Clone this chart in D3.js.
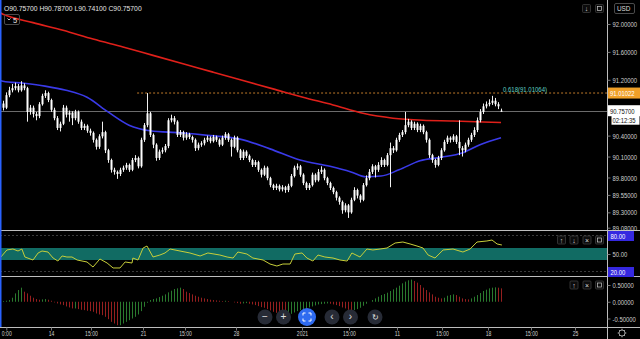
<!DOCTYPE html>
<html><head><meta charset="utf-8">
<script src="https://cdn.jsdelivr.net/npm/d3@7"></script>
<style>html,body{margin:0;padding:0;background:#000;overflow:hidden}svg{display:block}text{font-family:"Liberation Sans",Arial,sans-serif}</style>
</head><body><svg id="c" width="640" height="339"></svg>
<script>
// ---------------- DATA ----------------
const opens=[90.86,90.80,90.98,91.05,91.08,91.11,91.05,91.12,91.08,90.74,
90.80,90.71,90.68,90.85,90.97,91.01,90.91,90.77,90.65,90.51,
90.57,90.80,90.70,90.73,90.65,90.74,90.60,90.51,90.54,90.47,
90.44,90.34,90.24,90.39,90.45,90.19,90.05,89.91,89.88,89.85,
89.91,89.94,89.98,89.91,90.05,90.08,89.96,90.34,90.55,90.72,
90.41,90.27,90.08,90.17,90.19,90.25,90.62,90.65,90.60,90.41,
90.45,90.37,90.42,90.38,90.34,90.22,90.27,90.29,90.34,90.37,
90.32,90.38,90.34,90.27,90.37,90.42,90.34,90.24,90.37,90.19,
90.08,90.17,90.11,90.05,89.98,90.02,89.91,89.84,89.94,89.79,
89.69,89.65,89.68,89.63,89.66,89.62,89.68,89.82,89.94,89.96,
89.84,89.72,89.65,89.69,89.84,89.76,89.88,89.91,89.79,89.72,
89.65,89.59,89.51,89.45,89.33,89.40,89.30,89.48,89.62,89.54,
89.48,89.69,89.79,89.88,89.96,89.91,89.98,90.05,89.98,90.12,
90.22,90.19,90.34,90.41,90.45,90.55,90.60,90.51,90.57,90.48,
90.54,90.45,90.34,90.12,90.05,89.98,90.08,90.19,90.31,90.37,
90.34,90.39,90.31,90.22,90.19,90.27,90.34,90.41,90.48,90.62,
90.74,90.82,90.85,90.87,90.90,90.85,90.757];
const closes=[90.80,90.98,91.05,91.08,91.11,91.05,91.12,91.08,90.74,90.80,
90.71,90.68,90.85,90.97,91.01,90.91,90.77,90.65,90.51,90.57,
90.80,90.70,90.73,90.65,90.74,90.60,90.51,90.54,90.47,90.44,
90.34,90.24,90.39,90.45,90.19,90.05,89.91,89.88,89.85,89.91,
89.94,89.98,89.91,90.05,90.08,89.96,90.34,90.55,90.72,90.41,
90.27,90.08,90.17,90.19,90.25,90.62,90.65,90.60,90.41,90.45,
90.37,90.42,90.38,90.34,90.22,90.27,90.29,90.34,90.37,90.32,
90.38,90.34,90.27,90.37,90.42,90.34,90.24,90.37,90.19,90.08,
90.17,90.11,90.05,89.98,90.02,89.91,89.84,89.94,89.79,89.69,
89.65,89.68,89.63,89.66,89.62,89.68,89.82,89.94,89.96,89.84,
89.72,89.65,89.69,89.84,89.76,89.88,89.91,89.79,89.72,89.65,
89.59,89.51,89.45,89.33,89.40,89.30,89.48,89.62,89.54,89.48,
89.69,89.79,89.88,89.96,89.91,89.98,90.05,89.98,90.12,90.22,
90.19,90.34,90.41,90.45,90.55,90.60,90.51,90.57,90.48,90.54,
90.45,90.34,90.12,90.05,89.98,90.08,90.19,90.31,90.37,90.34,
90.39,90.31,90.22,90.19,90.27,90.34,90.41,90.48,90.62,90.74,
90.82,90.85,90.87,90.90,90.85,90.82,90.757];
const highs=[90.90,91.02,91.10,91.14,91.16,91.14,91.18,91.15,91.10,90.84,
90.83,90.74,90.88,91.00,91.05,91.03,90.93,90.80,90.68,90.60,
90.84,90.83,90.76,90.75,90.77,90.76,90.63,90.57,90.56,90.50,
90.46,90.36,90.42,90.60,90.47,90.21,90.07,89.94,89.90,89.94,
89.97,90.01,90.00,90.08,90.12,90.10,90.37,90.58,91.01,90.74,
90.43,90.29,90.20,90.23,90.28,90.65,90.70,90.68,90.62,90.48,
90.47,90.45,90.44,90.40,90.36,90.30,90.32,90.37,90.40,90.39,
90.41,90.40,90.36,90.40,90.45,90.44,90.36,90.40,90.39,90.21,
90.20,90.19,90.13,90.07,90.05,90.04,89.93,89.97,89.96,89.81,
89.71,89.71,89.70,89.69,89.68,89.71,89.85,89.97,90.00,89.98,
89.86,89.74,89.72,89.87,89.86,89.92,89.96,89.93,89.81,89.74,
89.67,89.61,89.53,89.47,89.43,89.42,89.51,89.66,89.64,89.56,
89.72,89.83,89.92,89.99,89.98,90.02,90.09,90.07,90.15,90.30,
90.25,90.37,90.44,90.48,90.74,90.64,90.62,90.60,90.59,90.57,
90.56,90.47,90.36,90.14,90.07,90.11,90.22,90.34,90.40,90.39,
90.42,90.41,90.62,90.25,90.30,90.37,90.44,90.52,90.66,90.78,
90.86,90.89,90.92,90.97,90.94,90.88,90.787];
const lows=[90.76,90.78,90.95,91.02,91.05,91.02,91.03,91.05,90.60,90.70,
90.66,90.62,90.65,90.83,90.94,90.88,90.74,90.62,90.48,90.46,
90.55,90.66,90.60,90.55,90.62,90.57,90.48,90.48,90.44,90.40,
90.30,90.20,90.21,90.36,90.15,90.01,89.87,89.84,89.78,89.82,
89.88,89.91,89.88,89.89,90.02,89.93,89.94,90.31,90.52,90.38,
90.22,90.04,90.05,90.14,90.16,90.22,90.59,90.56,90.38,90.38,
90.33,90.34,90.35,90.30,90.18,90.19,90.24,90.26,90.31,90.29,
90.30,90.31,90.24,90.25,90.34,90.31,90.10,90.22,90.16,90.05,
90.05,90.08,90.02,89.95,89.95,89.88,89.80,89.82,89.76,89.66,
89.62,89.62,89.60,89.60,89.58,89.59,89.66,89.80,89.91,89.81,
89.69,89.62,89.62,89.67,89.73,89.74,89.85,89.76,89.69,89.62,
89.56,89.47,89.41,89.28,89.30,89.22,89.28,89.46,89.50,89.44,
89.46,89.67,89.76,89.85,89.80,89.88,89.95,89.95,89.96,89.66,
90.15,90.17,90.31,90.38,90.42,90.52,90.48,90.48,90.45,90.45,
90.42,90.30,90.08,90.01,89.94,89.96,90.05,90.17,90.28,90.30,
90.31,90.28,90.12,90.10,90.16,90.24,90.31,90.38,90.45,90.59,
90.71,90.79,90.82,90.84,90.82,90.78,90.741];

// slow MA (red) and fast MA (blue), read at candle indices
const maSlowIdx=[-1,0,10,20,30,40,50,60,70,80,90,100,110,120,130,140,150,160,166];
const maSlowVal=[92.16,92.14,92.02,91.91,91.785,91.67,91.55,91.43,91.31,91.19,91.07,90.95,90.84,90.72,90.65,90.62,90.61,90.595,90.588];
const maFastIdx=[-1,0,7,14,21,28,35,42,49,59,69,79,89,99,109,116,121,126,132,139,146,153,159,166];
const maFastVal=[91.19,91.18,91.15,91.11,91.05,90.95,90.74,90.55,90.47,90.44,90.40,90.35,90.21,90.05,89.96,89.88,89.81,89.82,89.91,90.04,90.09,90.15,90.27,90.37];

// RSI line
const rsiIdx=[-1,1.3,3.3,5,6.3,7.3,10,11.7,13,15,16.7,18.3,19.7,21.3,23,24.7,28,30,32.3,34.7,36.7,39,40.7,43,43.3,45,46.7,48,50,52.3,54,55.7,59,62.3,65.7,68.3,72.3,74.7,76.7,78.3,81.3,83.3,86.7,89,91.3,93.3,95.7,97.3,99.7,101.3,103.3,105,107.3,110,112.3,114.7,116.3,119,121.3,123.3,125.7,128,130.7,133.3,135.7,138,140,141.7,144,146.7,150,153.3,155.7,158,161.3,163,164.7,166.3];
const rsiVal=[43.3,56.7,58.3,55,58.3,45,40,51.7,55,53.3,43.3,38.3,46.7,45,45,40,36.7,28.3,41.7,35,26.7,26.7,36.7,35,43.3,40,60,63.3,45,48.3,51.7,58.3,55,51.7,46.7,51.7,48.3,45,43.3,53.3,50,43.3,40,33.3,30,33.3,33.3,50,51.7,43.3,38.3,48.3,45,43.3,40,38.3,51.7,45,58.3,56.7,58.3,60,68.3,70,66.7,63.3,60,48.3,43.3,56.7,58.3,53.3,58.3,70,71.7,73.3,66.7,65];

// MACD histogram
const macdHist=[0.02,0.03,0.05,0.12,0.25,0.35,0.42,0.30,0.25,0.18,
0.12,0.08,0.06,0.07,0.08,0.06,0.03,-0.02,-0.05,-0.08,
-0.10,-0.14,-0.17,-0.20,-0.20,-0.22,-0.24,-0.25,-0.27,-0.28,
-0.30,-0.35,-0.38,-0.40,-0.45,-0.52,-0.60,-0.65,-0.70,-0.70,
-0.65,-0.60,-0.55,-0.50,-0.45,-0.38,-0.28,-0.15,-0.03,0.05,
0.08,0.10,0.14,0.18,0.22,0.28,0.33,0.38,0.40,0.42,
0.38,0.30,0.26,0.22,0.18,0.15,0.12,0.10,0.08,0.06,
0.05,0.04,0.03,0.02,0.03,0.02,0.00,-0.02,-0.04,-0.06,
-0.05,-0.04,-0.06,-0.08,-0.10,-0.13,-0.16,-0.18,-0.22,-0.26,
-0.30,-0.33,-0.36,-0.38,-0.40,-0.40,-0.36,-0.32,-0.28,-0.25,
-0.22,-0.20,-0.17,-0.14,-0.11,-0.08,-0.07,-0.06,-0.05,-0.06,
-0.08,-0.10,-0.13,-0.17,-0.20,-0.24,-0.26,-0.25,-0.22,-0.18,
-0.12,-0.06,0.00,0.05,0.10,0.15,0.20,0.23,0.27,0.32,
0.37,0.42,0.48,0.55,0.60,0.64,0.66,0.62,0.57,0.50,
0.42,0.35,0.28,0.22,0.15,0.12,0.10,0.12,0.18,0.20,
0.22,0.20,0.15,0.10,0.08,0.07,0.10,0.15,0.20,0.26,
0.32,0.36,0.40,0.42,0.43,0.42,0.40];

const priceTicks=[92.0,91.6,91.2,90.4,90.1,89.8,89.55,89.3,89.08];
const rsiTicks=[50];
const rsiBandTicks=[80,20];
const macdTicks=[0.5,0,-0.5];
const timeIdx=[1.1,16,29.33,46.67,60.67,77.67,99.67,115.33,131.33,146.33,161.67,176,190.67];
const timeLabels=["0:00","14","15:00","21","15:00","28","2021","15:00","11","15:00","18","15:00","25"];
const ohlcText="O90.75700  H90.78700  L90.74100  C90.75700";
const lastPrice=90.757, fibPrice=91.01064, fibLabelPrice=91.01022, fibStartIdx=44.7;
const fibText="0.618(91.01064)", countdown="02:12:35";

// ---------------- DRAW ----------------
const svg=d3.select("#c");
const W=640, H=339, PR=607.5;
svg.append("rect").attr("width",W).attr("height",H).attr("fill","#000");

const x=d3.scaleLinear().domain([0,166]).range([3,501]);
const y=d3.scaleLinear().domain([89.08,92.0]).range([227.7,24]);
const yR=d3.scaleLinear().domain([20,80]).range([272,236]);
const yM=d3.scaleLinear().domain([-0.5,0.5]).range([318.5,285]);

function squeeze(sel,f){sel.each(function(){const px=+(this.getAttribute("x")||0);d3.select(this).attr("transform",`translate(${px},0) scale(${f},1) translate(${-px},0)`);});}

const defs=svg.append("defs");
defs.append("clipPath").attr("id","cm").append("rect").attr("x",0).attr("y",0).attr("width",PR).attr("height",230);
defs.append("clipPath").attr("id","cr").append("rect").attr("x",0).attr("y",231).attr("width",PR).attr("height",46);
defs.append("clipPath").attr("id","cd").append("rect").attr("x",0).attr("y",277).attr("width",PR).attr("height",50);

const gMain=svg.append("g").attr("clip-path","url(#cm)");
gMain.append("line").attr("x1",0).attr("x2",PR).attr("y1",Math.round(y(lastPrice))+0.5).attr("y2",Math.round(y(lastPrice))+0.5).attr("stroke","#6b6b6b").attr("stroke-width",1);
gMain.append("line").attr("x1",x(fibStartIdx)).attr("x2",PR).attr("y1",y(fibPrice)).attr("y2",y(fibPrice)).attr("stroke","#c07a2a").attr("stroke-width",1).attr("stroke-dasharray","2,2");

const lineGen=d3.line().x(d=>x(d[0])).y(d=>y(d[1])).curve(d3.curveMonotoneX);
gMain.append("path").datum(maSlowIdx.map((d,i)=>[d,maSlowVal[i]])).attr("d",lineGen).attr("fill","none").attr("stroke","#e0201a").attr("stroke-width",1.6);
gMain.append("path").datum(maFastIdx.map((d,i)=>[d,maFastVal[i]])).attr("d",lineGen).attr("fill","none").attr("stroke","#3a3ae8").attr("stroke-width",1.6);

const cd=closes.map((c,i)=>({i,o:opens[i],h:highs[i],l:lows[i],c}));
const cg=gMain.append("g");
cg.selectAll("line.w").data(cd).join("line").attr("class","w")
 .attr("x1",d=>Math.round(x(d.i))+0.5).attr("x2",d=>Math.round(x(d.i))+0.5)
 .attr("y1",d=>y(d.h)).attr("y2",d=>y(d.l)).attr("stroke","#f0f0f0").attr("stroke-width",1);
cg.selectAll("rect").data(cd).join("rect")
 .attr("x",d=>Math.round(x(d.i))-0.5).attr("width",2)
 .attr("y",d=>y(Math.max(d.o,d.c))).attr("height",d=>Math.max(1,Math.abs(y(d.o)-y(d.c))))
 .attr("fill","#ffffff");

squeeze(svg.append("text").attr("x",503).attr("y",y(fibPrice)-1.5).attr("fill","#5fd0c0").attr("font-size",7.5).text(fibText),0.8);

const ht=svg.append("text").attr("x",4).attr("y",11).attr("fill","#e6e6e6").attr("font-size",8).text(ohlcText);
squeeze(ht,138/ht.node().getComputedTextLength());
svg.append("rect").attr("x",4.5).attr("y",14.5).attr("width",15).attr("height",10).attr("rx",1.5).attr("fill","none").attr("stroke","#4a4a4a");
svg.append("path").attr("d","M7.5,18.5 L9,20 L10.5,18.5").attr("fill","none").attr("stroke","#ddd").attr("stroke-width",0.9);
svg.append("text").attr("x",13).attr("y",22.5).attr("fill","#e6e6e6").attr("font-size",7.5).text("5");

// ---------- RSI panel ----------
const gR=svg.append("g").attr("clip-path","url(#cr)");
gR.append("rect").attr("x",0).attr("width",PR).attr("y",yR(60)).attr("height",yR(40)-yR(60)).attr("fill","#116b63");
rsiBandTicks.forEach(v=>gR.append("line").attr("x1",0).attr("x2",PR).attr("y1",yR(v)-0.5).attr("y2",yR(v)-0.5).attr("stroke","#3a3a3a").attr("stroke-dasharray","2,2"));
gR.append("path").datum(rsiIdx.map((d,i)=>[d,rsiVal[i]])).attr("d",d3.line().x(d=>x(d[0])).y(d=>yR(d[1]))).attr("fill","none").attr("stroke","#c8cf3a").attr("stroke-width",1);

// ---------- MACD panel ----------
const gD=svg.append("g").attr("clip-path","url(#cd)");
gD.selectAll("line").data(macdHist).join("line")
 .attr("x1",(d,i)=>Math.round(x(i))+0.5).attr("x2",(d,i)=>Math.round(x(i))+0.5)
 .attr("y1",yM(0)).attr("y2",d=>yM(d))
 .attr("stroke",(d,i)=>(i===0||d>=macdHist[i-1])?"#2a7a2e":"#951f1f").attr("stroke-width",1);

// ---------- separators & borders ----------
[230.5,276.5,327.5].forEach(v=>svg.append("line").attr("x1",0).attr("x2",W).attr("y1",v).attr("y2",v).attr("stroke","#bdbdbd").attr("stroke-width",1));
svg.append("line").attr("x1",PR).attr("x2",PR).attr("y1",0).attr("y2",H).attr("stroke","#bdbdbd").attr("stroke-width",1);
svg.append("line").attr("x1",0.75).attr("x2",0.75).attr("y1",0).attr("y2",327).attr("stroke","#2962ff").attr("stroke-width",1.5);

// ---------- axes ----------
function styleAxis(g,f){g.select(".domain").remove();g.selectAll(".tick line").attr("stroke","#777");g.selectAll("text").attr("fill","#cfcfcf").attr("font-size",8).attr("font-family","Liberation Sans, Arial, sans-serif");squeeze(g.selectAll("text"),f);}
const ax1=svg.append("g").attr("transform",`translate(${PR},0)`).call(d3.axisRight(y).tickValues(priceTicks).tickFormat(d3.format(".5f")).tickSize(3).tickPadding(2));
styleAxis(ax1,0.74);
const ax2=svg.append("g").attr("transform",`translate(${PR},0)`).call(d3.axisRight(yR).tickValues(rsiTicks).tickFormat(d3.format(".2f")).tickSize(3).tickPadding(2));
styleAxis(ax2,0.74);
const ax3=svg.append("g").attr("transform",`translate(${PR},0)`).call(d3.axisRight(yM).tickValues(macdTicks).tickFormat(d=>d3.format(".5f")(d).replace("−","-")).tickSize(3).tickPadding(2));
styleAxis(ax3,0.74);
const ax4=svg.append("g").attr("transform","translate(0,327.5)").call(d3.axisBottom(x).tickValues(timeIdx).tickFormat((d,i)=>timeLabels[i]).tickSize(3).tickPadding(2));
ax4.select(".domain").remove();ax4.selectAll(".tick line").attr("stroke","#777");
ax4.selectAll("text").attr("fill","#cfcfcf").attr("font-size",7.5).attr("y",8.5).attr("dy",0);
squeeze(ax4.selectAll("text"),0.68);

// ---------- price labels ----------
function tag(v,txt,bg,fg,w){const yy=y(v);svg.append("rect").attr("x",PR+0.5).attr("y",yy-5.5).attr("width",w).attr("height",11).attr("fill",bg);
 squeeze(svg.append("text").attr("x",PR+2.5).attr("y",yy+3).attr("fill",fg).attr("font-size",8).text(txt),0.74);}
tag(fibLabelPrice,d3.format(".5f")(fibLabelPrice),"#f0a028","#ffffff",33);
tag(lastPrice,d3.format(".5f")(lastPrice),"#ffffff","#111111",33);
svg.append("rect").attr("x",PR+4).attr("y",y(lastPrice)+5).attr("width",28).attr("height",9).attr("fill","#ffffff");
squeeze(svg.append("text").attr("x",PR+5).attr("y",y(lastPrice)+12.5).attr("fill","#111").attr("font-size",8).text(countdown),0.74);
rsiBandTicks.forEach(v=>{const yy=yR(v);svg.append("rect").attr("x",PR+0.5).attr("y",yy-5).attr("width",26).attr("height",10).attr("fill","#3528e0");
 squeeze(svg.append("text").attr("x",PR+3).attr("y",yy+3).attr("fill","#fff").attr("font-size",8).text(d3.format(".2f")(v)),0.74);});

// ---------- UI icons ----------
function iconBox(cx,cy,glyph){svg.append("rect").attr("x",cx-4).attr("y",cy-4).attr("width",8).attr("height",8).attr("rx",1).attr("fill","#0c0c0c").attr("stroke","#3c3c3c").attr("stroke-width",0.8);
 if(glyph==="sq"){svg.append("rect").attr("x",cx-2).attr("y",cy-2).attr("width",4).attr("height",4).attr("fill","none").attr("stroke","#ccc").attr("stroke-width",0.7);}
 else svg.append("text").attr("x",cx).attr("y",cy+2.5).attr("text-anchor","middle").attr("fill","#ddd").attr("font-size",7).text(glyph);}
iconBox(586.5,8.5,"↓");iconBox(599.5,8.5,"sq");
iconBox(561.5,240,"↑");iconBox(574,240,"↓");iconBox(587,240,"×");iconBox(599.5,240,"sq");
iconBox(574,285,"↑");iconBox(587,285,"×");iconBox(599.5,285,"sq");
svg.append("rect").attr("x",614.5).attr("y",3.5).attr("width",20).attr("height",10).attr("rx",1.5).attr("fill","none").attr("stroke","#4a4a4a");
squeeze(svg.append("text").attr("x",617).attr("y",11).attr("fill","#ddd").attr("font-size",8).text("USD"),0.8);

const navs=[[265,"−"],[283.5,"+"],[307,"fs"],[332,"‹"],[350.5,"›"],[375,"↻"]];
navs.forEach(([cx,g])=>{
 if(g==="fs"){svg.append("circle").attr("cx",cx).attr("cy",317).attr("r",9).attr("fill","#2f6bf0");
  ["M-4,-1.5 L-4,-4 L-1.5,-4","M1.5,-4 L4,-4 L4,-1.5","M4,1.5 L4,4 L1.5,4","M-1.5,4 L-4,4 L-4,1.5"].forEach(d=>svg.append("path").attr("d",d).attr("transform",`translate(${cx},317)`).attr("fill","none").attr("stroke","#fff").attr("stroke-width",1));}
 else{svg.append("circle").attr("cx",cx).attr("cy",317).attr("r",7.5).attr("fill","#272b36");
  svg.append("text").attr("x",cx).attr("y",320).attr("text-anchor","middle").attr("fill","#e0e0e0").attr("font-size",g==="↻"?8:10).attr("font-family","DejaVu Sans").text(g);}
});
const gear=svg.append("g").attr("transform","translate(622,333)");
gear.append("circle").attr("r",3).attr("fill","none").attr("stroke","#aaa").attr("stroke-width",0.9);
d3.range(8).forEach(k=>{const a=k*Math.PI/4;gear.append("line").attr("x1",3*Math.cos(a)).attr("y1",3*Math.sin(a)).attr("x2",4.3*Math.cos(a)).attr("y2",4.3*Math.sin(a)).attr("stroke","#aaa").attr("stroke-width",1);});
</script></body></html>
